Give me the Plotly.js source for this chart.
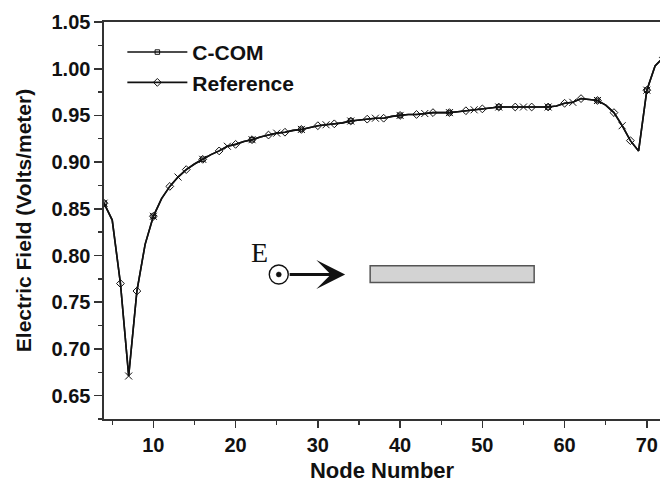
<!DOCTYPE html>
<html>
<head>
<meta charset="utf-8">
<script src="https://cdn.plot.ly/plotly-3.0.1.min.js"></script>
<style>
  html, body { margin: 0; padding: 0; background: #fff; }
  #chart { width: 660px; height: 483px; }
</style>
</head>
<body>
<div id="chart"></div>
<script>
// Node numbers along the line
const nodes = [];
for (let n = 4; n <= 72; n++) nodes.push(n);

// Electric field computed with C-COM at each node (V/m)
const ccomField = [
  0.856, 0.838, 0.770, 0.671, 0.762, 0.812, 0.842, 0.861, 0.874, 0.884,
  0.892, 0.898, 0.903, 0.908, 0.912, 0.917, 0.919, 0.922, 0.924, 0.927,
  0.929, 0.931, 0.932, 0.934, 0.935, 0.937, 0.939, 0.940, 0.941, 0.942,
  0.944, 0.945, 0.946, 0.947, 0.947, 0.949, 0.950, 0.951, 0.951, 0.952,
  0.953, 0.953, 0.953, 0.954, 0.955, 0.956, 0.957, 0.958, 0.959, 0.959,
  0.959, 0.959, 0.959, 0.959, 0.959, 0.960, 0.963, 0.964, 0.968, 0.967,
  0.966, 0.961, 0.953, 0.939, 0.923, 0.912, 0.977, 1.003, 1.012
];

// Reference solution at each node (V/m)
const refField = [
  0.856, 0.838, 0.770, 0.671, 0.762, 0.812, 0.842, 0.861, 0.874, 0.884,
  0.892, 0.898, 0.903, 0.908, 0.912, 0.917, 0.919, 0.922, 0.924, 0.927,
  0.929, 0.931, 0.932, 0.934, 0.935, 0.937, 0.939, 0.940, 0.941, 0.942,
  0.944, 0.945, 0.946, 0.947, 0.947, 0.949, 0.950, 0.951, 0.951, 0.952,
  0.953, 0.953, 0.953, 0.954, 0.955, 0.956, 0.957, 0.958, 0.959, 0.959,
  0.959, 0.959, 0.959, 0.959, 0.959, 0.960, 0.963, 0.964, 0.968, 0.967,
  0.966, 0.961, 0.953, 0.939, 0.923, 0.912, 0.977, 1.003, 1.012
];

const xTickVals = [10, 20, 30, 40, 50, 60, 70];
const yTickVals = [0.65, 0.70, 0.75, 0.80, 0.85, 0.90, 0.95, 1.00, 1.05];

const INK = '#111111';
const HIDDEN = 'rgba(0,0,0,0)';
const BOLD = { family: 'Liberation Sans, Arial, sans-serif', weight: 700, color: INK };

// Marker visibility: squares every 6th node, diamonds on even nodes, crosses every 3rd node
const squareColors = nodes.map(n => ((n - 4) % 6 === 0 ? INK : HIDDEN));
const diamondColors = nodes.map(n => (n % 2 === 0 ? INK : HIDDEN));
const crossNodes = nodes.filter(n => (n - 4) % 3 === 0);
const crossField = crossNodes.map(n => ccomField[nodes.indexOf(n)]);

const traces = [
  {
    x: nodes, y: ccomField, name: 'C-COM', type: 'scatter', mode: 'lines+markers',
    line: { color: INK, width: 1.6 },
    marker: { symbol: 'square-open', size: 4.5, color: squareColors, line: { width: 1 } },
    cliponaxis: true
  },
  {
    x: nodes, y: refField, name: 'Reference', type: 'scatter', mode: 'lines+markers',
    line: { color: INK, width: 1.6 },
    marker: { symbol: 'diamond-open', size: 6, color: diamondColors, line: { width: 1 } },
    cliponaxis: true
  },
  {
    x: crossNodes, y: crossField, name: 'C-COM nodes', type: 'scatter', mode: 'markers',
    showlegend: false,
    marker: { symbol: 'x-thin-open', size: 7, color: INK, line: { width: 1, color: INK } },
    cliponaxis: true
  }
];

const layout = {
  width: 660, height: 483,
  margin: { l: 104, r: 0, t: 22, b: 64 },
  paper_bgcolor: '#ffffff', plot_bgcolor: '#ffffff',
  showlegend: true,
  legend: {
    x: 0.033, y: 0.975, xanchor: 'left', yanchor: 'top',
    bgcolor: 'rgba(0,0,0,0)', borderwidth: 0,
    font: Object.assign({ size: 21 }, BOLD),
    itemwidth: 60, tracegroupgap: 4
  },
  xaxis: {
    range: [4, 71.6], tickvals: xTickVals, ticktext: xTickVals.map(String),
    showgrid: false, zeroline: false,
    showline: true, linecolor: '#333', linewidth: 1.6, mirror: true,
    ticks: 'outside', ticklen: 7, tickwidth: 1.6, tickcolor: '#333',
    minor: { dtick: 5, tick0: 5, ticks: 'outside', ticklen: 4, tickwidth: 1.4, tickcolor: '#333', showgrid: false },
    tickfont: Object.assign({ size: 20 }, BOLD),
    title: { text: 'Node Number', font: Object.assign({ size: 22 }, BOLD), standoff: 10 }
  },
  yaxis: {
    range: [0.625, 1.05], tickvals: yTickVals, ticktext: yTickVals.map(v => v.toFixed(2)),
    showgrid: false, zeroline: false,
    showline: true, linecolor: '#333', linewidth: 1.6, mirror: false,
    ticks: 'outside', ticklen: 8, tickwidth: 1.6, tickcolor: '#333',
    minor: { dtick: 0.025, tick0: 0.625, ticks: 'outside', ticklen: 4, tickwidth: 1.4, tickcolor: '#333', showgrid: false },
    tickfont: Object.assign({ size: 20 }, BOLD),
    title: { text: 'Electric Field (Volts/meter)', font: Object.assign({ size: 21 }, BOLD), standoff: 14 }
  },
  shapes: [
    // conductor strip
    { type: 'rect', xref: 'x', yref: 'y', x0: 36.36, x1: 56.3, y0: 0.771, y1: 0.789,
      fillcolor: '#d3d3d3', line: { color: '#555555', width: 1.5 } },
    // field pointing out of the page: circle with centre dot
    { type: 'circle', xref: 'x', yref: 'y', xsizemode: 'pixel', ysizemode: 'pixel',
      xanchor: 25.25, yanchor: 0.7797, x0: -9.5, x1: 9.5, y0: -9.5, y1: 9.5,
      line: { color: INK, width: 1.4 }, fillcolor: 'rgba(0,0,0,0)' },
    { type: 'circle', xref: 'x', yref: 'y', xsizemode: 'pixel', ysizemode: 'pixel',
      xanchor: 25.25, yanchor: 0.7797, x0: -2.5, x1: 2.5, y0: -2.5, y1: 2.5,
      line: { color: INK, width: 0.5 }, fillcolor: INK }
  ],
  annotations: [
    { xref: 'x', yref: 'y', x: 22.86, y: 0.8035, text: 'E', showarrow: false,
      xanchor: 'center', yanchor: 'middle',
      font: { family: 'Liberation Serif, Times New Roman, serif', size: 28, color: INK } },
    // propagation direction arrow
    { xref: 'x', yref: 'y', x: 33.32, y: 0.7797, text: '', showarrow: true,
      ax: -57, ay: 0, arrowhead: 3, arrowsize: 1.5, arrowwidth: 3.2, arrowcolor: INK, standoff: 0 }
  ]
};

Plotly.newPlot('chart', traces, layout, { displayModeBar: false, staticPlot: true });
</script>
</body>
</html>
